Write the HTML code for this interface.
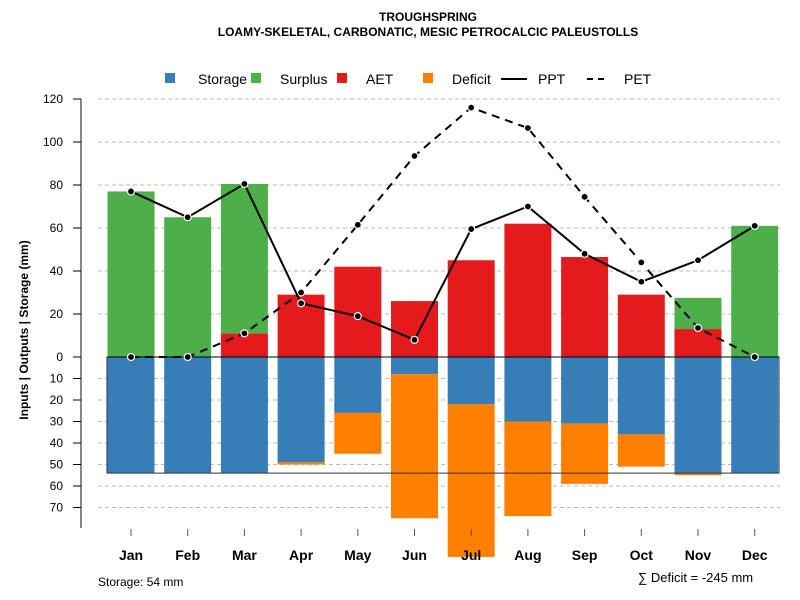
<!DOCTYPE html>
<html><head><meta charset="utf-8"><style>
body{margin:0;background:#fff}
svg{display:block;font-family:"Liberation Sans",sans-serif}
</style></head><body>
<svg id="chart" width="800" height="600" viewBox="0 0 800 600">
<text x="428" y="21" text-anchor="middle" font-size="12" font-weight="bold">TROUGHSPRING</text>
<text x="428" y="36" text-anchor="middle" font-size="12" font-weight="bold">LOAMY-SKELETAL, CARBONATIC, MESIC PETROCALCIC PALEUSTOLLS</text>
<g id="grid"></g><g id="bars"></g><g id="axes"></g><g id="lines"></g>
<g font-size="14">
<rect x="165" y="73" width="10" height="10" fill="#377EB8"/>
<text x="198" y="84">Storage</text>
<rect x="251" y="73" width="10" height="10" fill="#4DAF4A"/>
<text x="280" y="84">Surplus</text>
<rect x="337" y="73" width="10" height="10" fill="#E41A1C"/>
<text x="366" y="84">AET</text>
<rect x="423" y="73" width="10" height="10" fill="#FF7F00"/>
<text x="452" y="84">Deficit</text>
<line x1="501" y1="79" x2="527" y2="79" stroke="#000" stroke-width="2"/>
<text x="538" y="84">PPT</text>
<line x1="587" y1="79" x2="608" y2="79" stroke="#000" stroke-width="2" stroke-dasharray="6,5"/>
<text x="624" y="84">PET</text>
</g>
<text transform="translate(28,330) rotate(-90)" text-anchor="middle" font-size="12" font-weight="bold">Inputs | Outputs | Storage    (mm)</text>
<text x="98" y="586" font-size="12">Storage: 54 mm</text>
<text x="638" y="582" font-size="13">∑ Deficit = -245 mm</text>
</svg>
<script>
const months=["Jan","Feb","Mar","Apr","May","Jun","Jul","Aug","Sep","Oct","Nov","Dec"];
const storage=[54,54,54,49,26,8,22,30,31,36,54,54];
const deficit=[0,0,0,1,19,67,71,44,28,15,1,0];
const aet=[0,0,11,29,42,26,45,62,46.5,29,13,0];
const surplus=[77,65,69.5,0,0,0,0,0,0,0,14.5,61];
const ppt=[77,65,80.5,25,19,8,59.5,70,48,35,45,61];
const pet=[0,0,11,30,61.5,93.5,116,106.5,74.5,44,13.5,0];
const posTicks=[0,20,40,60,80,100,120];
const negTicks=[10,20,30,40,50,60,70];
const maxStorage=54;
const NS="http://www.w3.org/2000/svg";
const y=v=>357-v*2.15;
const x=i=>131+i*56.7;
const bw=47;
function mk(p,t,a){const e=document.createElementNS(NS,t);for(const k in a)e.setAttribute(k,a[k]);p.appendChild(e);return e;}
const G=document.getElementById('grid'),B=document.getElementById('bars'),A=document.getElementById('axes'),L=document.getElementById('lines');
posTicks.concat(negTicks.map(v=>-v)).forEach(v=>{
 if(v===0)return;
 const g=mk(G,'line',{x1:98,x2:780,y1:y(v),y2:y(v),stroke:'#bbb','stroke-dasharray':'4,3'});
 
});
function bar(i,top,bot,col,name){const r=mk(B,'rect',{x:x(i)-bw/2,y:y(top),width:bw,height:Math.max(0,y(bot)-y(top)),fill:col});
}
months.forEach((m,i)=>{
 bar(i,0,-storage[i],'#377EB8','bar-storage-'+m.toLowerCase());
 if(deficit[i]>0)bar(i,-storage[i],-storage[i]-deficit[i],'#FF7F00','bar-deficit-'+m.toLowerCase());
 if(aet[i]>0)bar(i,aet[i],0,'#E41A1C','bar-aet-'+m.toLowerCase());
 if(surplus[i]>0)bar(i,aet[i]+surplus[i],aet[i],'#4DAF4A','bar-surplus-'+m.toLowerCase());
});
const box=mk(B,'rect',{x:107,y:y(0),width:672,height:y(-maxStorage)-y(0),fill:'none',stroke:'#333','stroke-width':1});

const zl=mk(B,'line',{x1:107,x2:779,y1:y(0),y2:y(0),stroke:'#000'});

const ax=mk(A,'line',{x1:81,x2:81,y1:y(120),y2:528,stroke:'#888','stroke-width':2});

posTicks.forEach(v=>{
 const t=mk(A,'line',{x1:73,x2:81,y1:y(v),y2:y(v),stroke:'#000'});
 const l=mk(A,'text',{x:63,y:y(v)+4,'text-anchor':'end','font-size':12});l.textContent=v;
});
negTicks.forEach(v=>{
 const t=mk(A,'line',{x1:73,x2:81,y1:y(-v),y2:y(-v),stroke:'#000'});
 const l=mk(A,'text',{x:63,y:y(-v)+4,'text-anchor':'end','font-size':12});l.textContent=v;
});
months.forEach((m,i)=>{
 const t=mk(A,'line',{x1:x(i),x2:x(i),y1:529,y2:536,stroke:'#555'});
 const l=mk(A,'text',{x:x(i),y:560,'text-anchor':'middle','font-size':14,'font-weight':'bold'});l.textContent=m;
});
function series(vals,dash,name){
 const p=mk(L,'polyline',{points:vals.map((v,i)=>x(i)+','+y(v)).join(' '),fill:'none',stroke:'#000','stroke-width':2,'stroke-dasharray':dash});
 
 vals.forEach((v,i)=>{const c=mk(L,'circle',{cx:x(i),cy:y(v),r:3.5,fill:'#000',stroke:'#fff','stroke-width':1.2});
 });
}
series(pet,'8,6','pet');
series(ppt,'none','ppt');
</script>
</body></html>
